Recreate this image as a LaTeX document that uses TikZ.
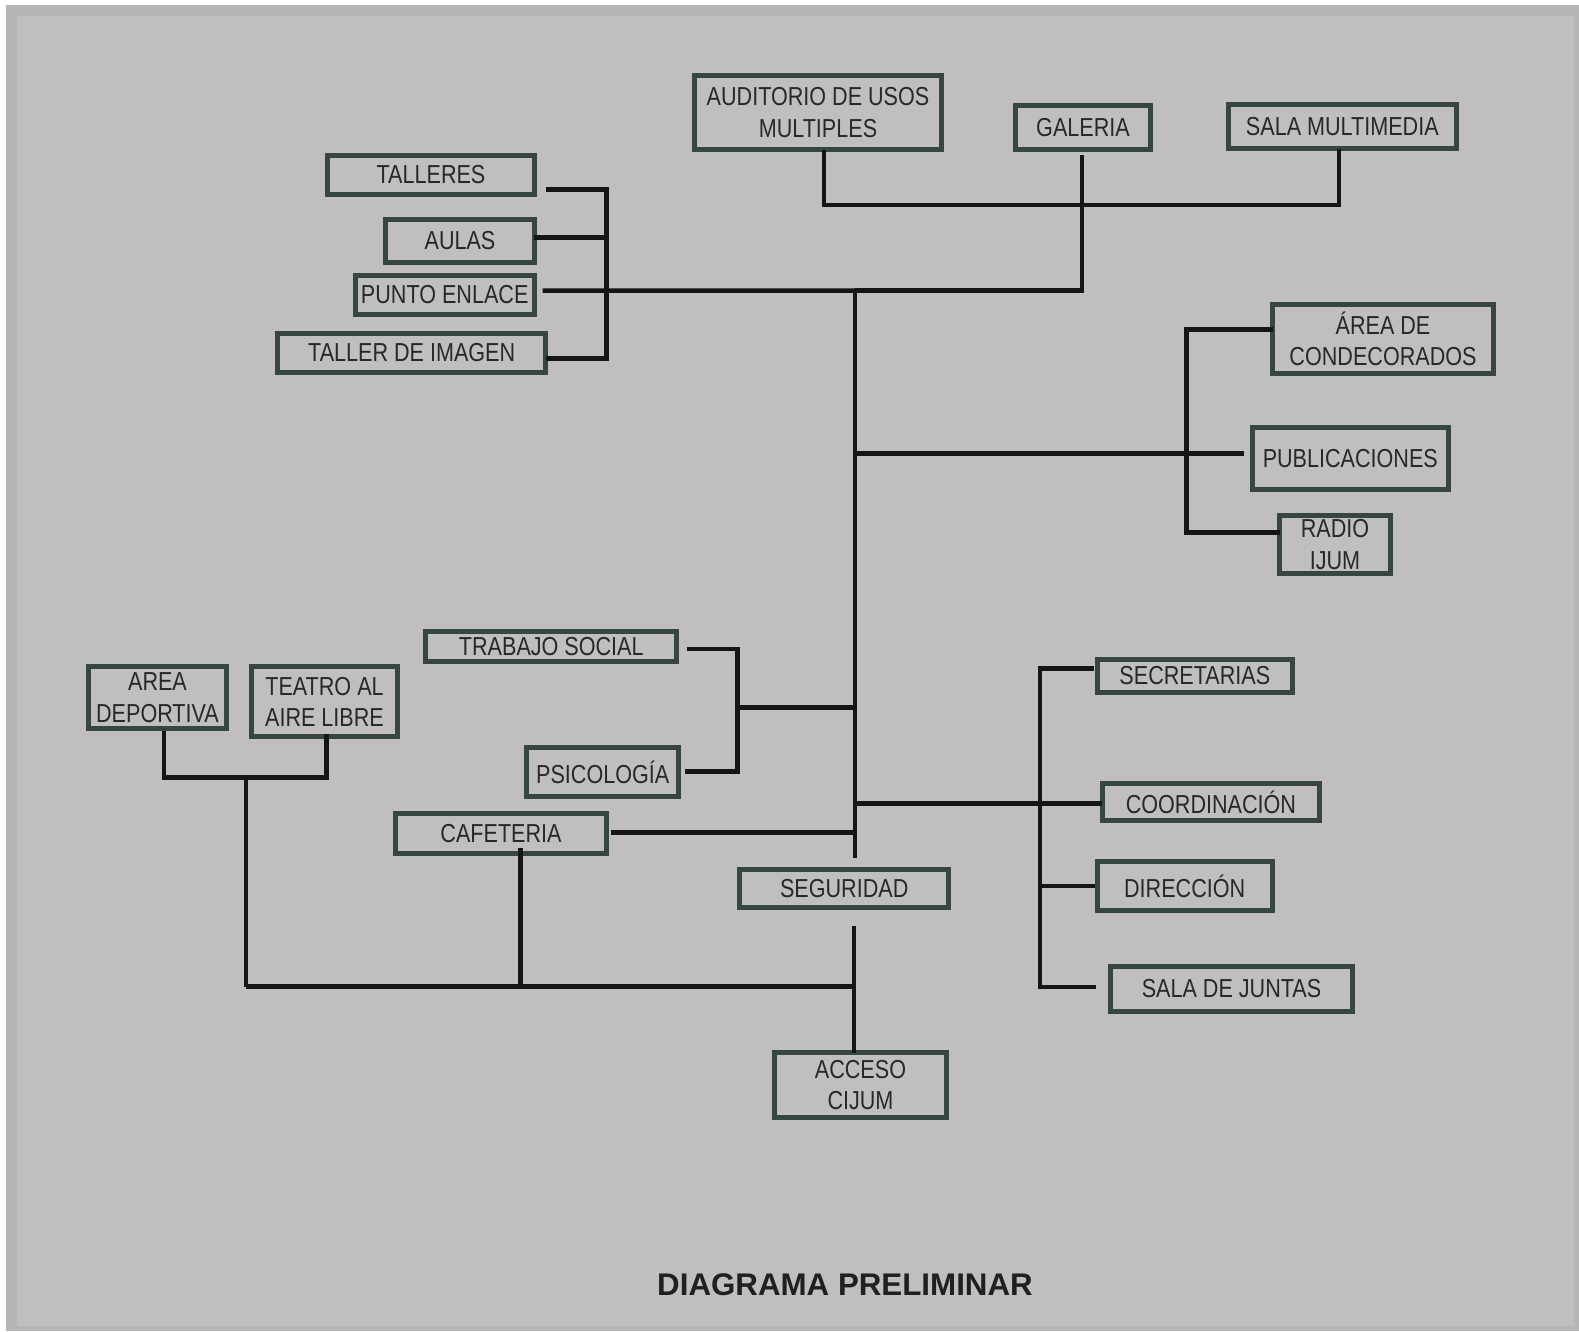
\documentclass[tikz,border=0pt]{standalone}
\usepackage{fontspec}
\setmainfont{Liberation Sans}
\newfontfamily\boxfont[FakeStretch=0.83]{Liberation Sans}
\definecolor{bgout}{RGB}{182,182,182}
\definecolor{bgin}{RGB}{192,190,191}
\definecolor{boxc}{RGB}{54,70,64}
\definecolor{linec}{RGB}{20,22,20}
\definecolor{txtc}{RGB}{40,40,40}
\tikzset{
  bx/.style={draw=boxc, line width=5pt, inner sep=0pt, outer sep=0pt, align=center,
    text=txtc, font=\boxfont\fontsize{26pt}{31.5pt}\selectfont},
  ln/.style={draw=linec, line width=4.5pt, line join=miter}
}
\begin{document}
\begin{tikzpicture}[x=1pt,y=-1pt]
\useasboundingbox (0,0) rectangle (1579,1331);
\fill[white] (0,0) rectangle (1579,1331);
\fill[bgout] (6,5) rectangle (1579,1331);
\fill[bgin] (17,16) rectangle (1574,1326);

% boxes
\node[bx, minimum width=247pt, minimum height=74pt] (aud) at (818,112.5) {AUDITORIO DE USOS\\MULTIPLES};
\node[bx, minimum width=135pt, minimum height=44pt] (gal) at (1083,127.5) {GALERIA};
\node[bx, minimum width=228.5pt, minimum height=44.3pt] (sm) at (1342.3,126.4) {SALA MULTIMEDIA};
\node[bx, minimum width=207pt, minimum height=38.4pt] (tal) at (431,175) {TALLERES};
\node[bx, minimum width=148.4pt, minimum height=43.3pt] (aul) at (460,240.9) {AULAS};
\node[bx, minimum width=179pt, minimum height=38.4pt] (pun) at (444.7,295) {PUNTO ENLACE};
\node[bx, minimum width=268.3pt, minimum height=39.3pt] (tim) at (411.7,352.9) {TALLER DE IMAGEN};
\node[bx, minimum width=221pt, minimum height=69.3pt] (cond) at (1383,338.9) {ÁREA DE\\CONDECORADOS};
\node[bx, minimum width=195.7pt, minimum height=62.3pt] (pub) at (1350.3,458.7) {PUBLICACIONES};
\node[bx, minimum width=110.4pt, minimum height=57.7pt] (rad) at (1335,544.7) {RADIO\\IJUM};
\node[bx, minimum width=251pt, minimum height=29.7pt] (tra) at (551.3,646.7) {TRABAJO SOCIAL};
\node[bx, minimum width=152.3pt, minimum height=49.3pt] (psi) at (602.7,772.2) {PSICOLOGÍA};
\node[bx, minimum width=211.5pt, minimum height=40.3pt] (caf) at (501,833.3) {CAFETERIA};
\node[bx, minimum width=208.7pt, minimum height=38.3pt] (seg) at (844.2,888.3) {SEGURIDAD};
\node[bx, minimum width=171.2pt, minimum height=64.5pt] (acc) at (860.5,1085) {ACCESO\\CIJUM};
\node[bx, minimum width=195.4pt, minimum height=33.2pt] (sec) at (1194.8,675.7) {SECRETARIAS};
\node[bx, minimum width=217.5pt, minimum height=36.3pt] (coo) at (1210.9,802) {COORDINACIÓN};
\node[bx, minimum width=175.3pt, minimum height=49.4pt] (dir) at (1184.7,886.2) {DIRECCIÓN};
\node[bx, minimum width=242.7pt, minimum height=45.3pt] (sdj) at (1231.5,988.8) {SALA DE JUNTAS};
\node[bx, minimum width=138pt, minimum height=61.7pt] (adep) at (157.5,697.7) {AREA\\DEPORTIVA};
\node[bx, minimum width=146pt, minimum height=70pt] (tea) at (324.5,701.8) {TEATRO AL\\AIRE LIBRE};

\node[font=\bfseries\fontsize{31.3pt}{36pt}\selectfont, text={rgb,255:red,34;green,31;blue,32}, inner sep=0pt] (title) at (845,1284.5) {DIAGRAMA PRELIMINAR};

% junction coordinates
\coordinate (jAud) at (824,205);
\coordinate (jSm) at (1339,205);
\coordinate (jGalTop) at (1082,155);
\coordinate (jGal) at (1082,290.5);
\coordinate (tTop) at (855,290.5);
\coordinate (tBot) at (855,858);
\coordinate (bTalA) at (546,189.3);
\coordinate (bTalB) at (606.7,189.3);
\coordinate (bTimB) at (606.7,358.3);
\coordinate (bTimA) at (546,358.3);
\coordinate (bAul) at (606.7,237.7);
\coordinate (bPun) at (542.7,290.7);
\coordinate (r1) at (855,453.3);
\coordinate (r1e) at (1244,453.3);
\coordinate (r1t) at (1186.7,329.3);
\coordinate (r1b) at (1186.7,532.7);
\coordinate (tsA) at (686.7,649);
\coordinate (tsB) at (737.7,649);
\coordinate (psB) at (737.7,771.3);
\coordinate (psA) at (685.3,771.3);
\coordinate (tpM) at (737.7,707.7);
\coordinate (tpT) at (855,707.7);
\coordinate (cfA) at (610.7,832.7);
\coordinate (cfT) at (855,832.7);
\coordinate (r2) at (855,803.3);
\coordinate (secA) at (1093.6,668.6);
\coordinate (secB) at (1040,668.6);
\coordinate (sdjB) at (1040,986.9);
\coordinate (sdjA) at (1095.6,986.9);
\coordinate (dirB) at (1040,886.2);
\coordinate (dirA) at (1094.6,886.2);
\coordinate (sgTop) at (854,926);
\coordinate (sgMid) at (854,986.7);
\coordinate (lw) at (246,986.7);
\coordinate (lwTop) at (246,777.3);
\coordinate (adA) at (164,777.3);
\coordinate (teA) at (326.7,777.3);
\coordinate (cfBot) at (520.3,986.7);

% connectors
\draw[ln] ([xshift=6pt]aud.south) -- (jAud) -- (jSm) -- ([xshift=-3.3pt]sm.south);
\draw[ln] (jGalTop) -- (jGal) -- (tTop);
\draw[ln] (bTalA) -- (bTalB) -- (bTimB) -- (bTimA);
\draw[ln] (aul.east |- bAul) -- (bAul);
\draw[ln] (bPun) -- (tTop);
\draw[ln] (tTop) -- (tBot);
\draw[ln] (r1) -- (r1e);
\draw[ln] (cond.west |- r1t) -- (r1t) -- (r1b) -- (rad.west |- r1b);
\draw[ln] (tsA) -- (tsB) -- (psB) -- (psA);
\draw[ln] (tpM) -- (tpT);
\draw[ln] (cfA) -- (cfT);
\draw[ln] (r2) -- (coo.west |- r2);
\draw[ln] (secA) -- (secB) -- (sdjB) -- (sdjA);
\draw[ln] (dirB) -- (dirA);
\draw[ln] (sgTop) -- (acc.north -| sgTop);
\draw[ln] (lw) -- (sgMid);
\draw[ln] ([xshift=6.5pt,yshift=-2pt]adep.south) -- (adA) -- (teA) -- ([xshift=2.2pt,yshift=3pt]tea.south);
\draw[ln] (lwTop) -- (lw);
\draw[ln] ([xshift=19.3pt,yshift=5pt]caf.south) -- (cfBot);
\end{tikzpicture}
\end{document}
